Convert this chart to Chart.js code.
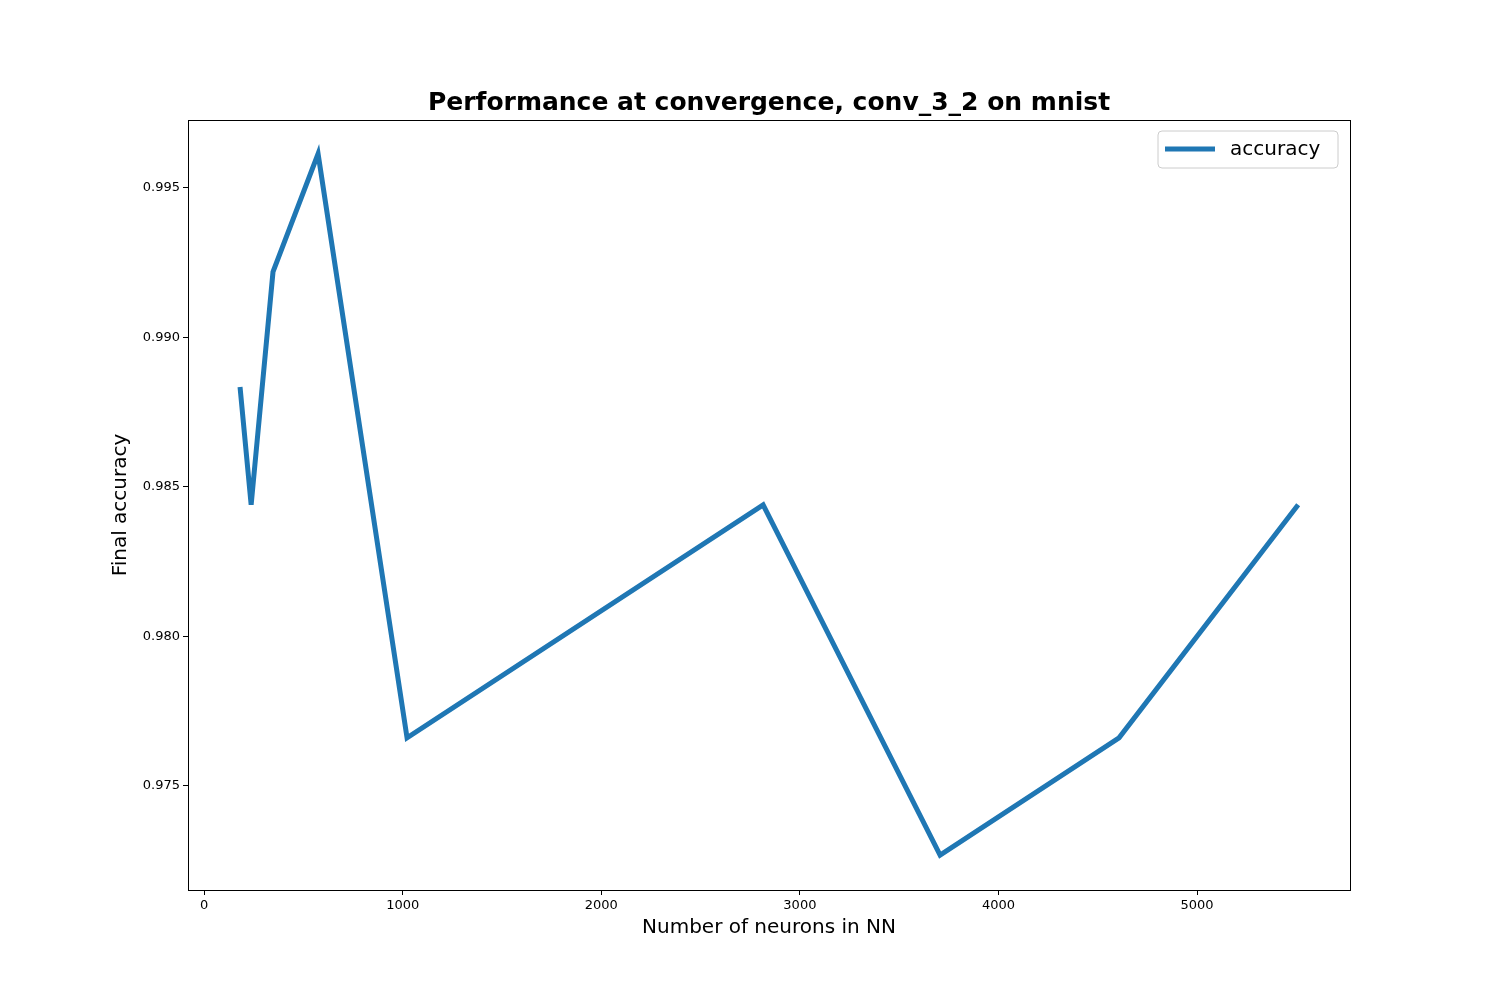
<!DOCTYPE html>
<html lang="en">
<head>
  <meta charset="UTF-8">
  <title>Performance at convergence</title>
  <script src="https://cdn.jsdelivr.net/npm/chart.js"></script>
  <style>
    body { margin: 0; background: #fff; }
    canvas { display: block; }
  </style>
</head>
<body>
  <canvas id="chart" width="1500" height="1000"></canvas>
  <script>
    const neurons = [181, 237, 347, 574, 1022, 2815, 3706, 4607, 5509];
    const accuracy = [0.98834, 0.98440, 0.99219, 0.99614, 0.97661, 0.98440, 0.97269, 0.97661, 0.98440];
    const seriesLabel = 'accuracy';
    const titleText = 'Performance at convergence, conv_3_2 on mnist';
    const xTitle = 'Number of neurons in NN';
    const yTitle = 'Final accuracy';
    const lineColor = '#1f77b4';

    // frame, titles + legend drawn like matplotlib
    const framePlugin = {
      id: 'frame',
      afterDraw(chart) {
        const { ctx, chartArea: a } = chart;
        const cx = (a.left + a.right) / 2, cy = (a.top + a.bottom) / 2;
        ctx.save();
        ctx.strokeStyle = '#000';
        ctx.lineWidth = 1;
        ctx.strokeRect(a.left + 0.5, a.top + 0.5, a.right - a.left, a.bottom - a.top);

        ctx.fillStyle = '#000';
        ctx.textAlign = 'center';
        ctx.textBaseline = 'middle';
        ctx.font = 'bold 25px "DejaVu Sans"';
        ctx.fillText(titleText, cx, 103);
        ctx.font = '20px "DejaVu Sans"';
        ctx.fillText(xTitle, cx, 928);
        ctx.save();
        ctx.translate(121, cy);
        ctx.rotate(-Math.PI / 2);
        ctx.fillText(yTitle, 0, 0);
        ctx.restore();

        // legend box
        const bx = a.right - 192, by = a.top + 11, bw = 180, bh = 37;
        ctx.fillStyle = 'rgba(255,255,255,0.8)';
        ctx.strokeStyle = '#ccc';
        ctx.beginPath();
        ctx.roundRect(bx, by, bw, bh, 4);
        ctx.fill();
        ctx.stroke();
        ctx.strokeStyle = lineColor;
        ctx.lineWidth = 5;
        ctx.beginPath();
        ctx.moveTo(bx + 7, by + 18);
        ctx.lineTo(bx + 57, by + 18);
        ctx.stroke();
        ctx.fillStyle = '#000';
        ctx.textAlign = 'left';
        ctx.fillText(chart.data.datasets[0].label, bx + 72, by + 19);
        ctx.restore();
      }
    };

    new Chart(document.getElementById('chart'), {
      type: 'line',
      data: {
        datasets: [{
          label: seriesLabel,
          data: neurons.map((x, i) => ({ x, y: accuracy[i] })),
          borderColor: lineColor,
          borderWidth: 5,
          pointRadius: 0,
          tension: 0,
          fill: false
        }]
      },
      options: {
        responsive: false,
        animation: false,
        layout: { padding: { top: 120, right: 150, left: 0, bottom: 0 } },
        plugins: {
          legend: { display: false },
          tooltip: { enabled: false },
          title: { display: false }
        },
        scales: {
          x: {
            type: 'linear',
            min: -81,
            max: 5770,
            afterFit(s) { s.height = 110; },
            afterBuildTicks(s) { s.ticks = [0, 1000, 2000, 3000, 4000, 5000].map(v => ({ value: v })); },
            grid: { drawOnChartArea: false, color: '#000', tickLength: 5 },
            border: { color: '#000' },
            ticks: { color: '#000', font: { family: 'DejaVu Sans', size: 13 }, padding: 3, maxRotation: 0, callback: v => String(v) }
          },
          y: {
            min: 0.97152,
            max: 0.99727,
            afterFit(s) { s.width = 188; },
            afterBuildTicks(s) { s.ticks = [0.975, 0.980, 0.985, 0.990, 0.995].map(v => ({ value: v })); },
            grid: { drawOnChartArea: false, color: '#000', tickLength: 5 },
            border: { color: '#000' },
            ticks: { color: '#000', font: { family: 'DejaVu Sans', size: 13 }, padding: 3, callback: v => v.toFixed(3) }
          }
        }
      },
      plugins: [framePlugin]
    });
  </script>
</body>
</html>
